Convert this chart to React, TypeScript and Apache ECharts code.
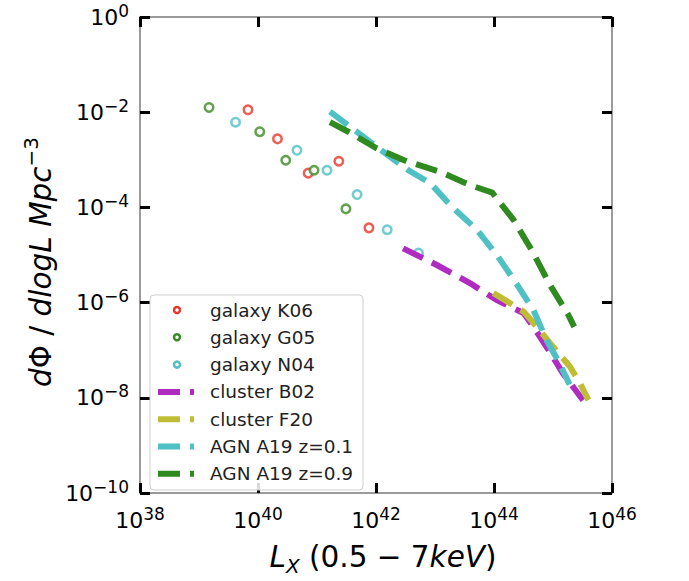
import React, { useEffect, useRef } from "react";
import * as echarts from "echarts";

// log10(L_X) and log10(dPhi/dlogL)
const k06LogL = [39.83, 40.33, 40.85, 41.37, 41.88];
const k06LogPhi = [-1.95, -2.56, -3.28, -3.03, -4.43];

const g05LogL = [39.17, 40.03, 40.47, 40.95, 41.49];
const g05LogPhi = [-1.9, -2.41, -3.01, -3.22, -4.03];

const n04LogL = [39.62, 40.66, 41.17, 41.68, 42.19, 42.72];
const n04LogPhi = [-2.21, -2.8, -3.22, -3.73, -4.47, -4.96];

const b02LogL = [42.46, 43.03, 43.59, 44.05, 44.5, 44.67, 44.89, 45.17, 45.51];
const b02LogPhi = [-4.86, -5.21, -5.59, -5.95, -6.22, -6.51, -6.93, -7.49, -8.05];

const f20LogL = [43.99, 44.27, 44.5, 44.67, 44.95, 45.29, 45.46, 45.6];
const f20LogPhi = [-5.8, -6.01, -6.19, -6.43, -6.85, -7.35, -7.7, -8.05];

const agn01LogL = [41.22, 41.67, 42.12, 42.55, 42.92, 43.28, 43.71, 44.07, 44.38, 44.67, 44.89, 45.1, 45.28];
const agn01LogPhi = [-1.99, -2.41, -2.83, -3.22, -3.49, -3.98, -4.47, -5.04, -5.6, -6.16, -6.79, -7.25, -7.72];

const agn09LogL = [41.22, 41.53, 42.01, 42.52, 43.08, 43.59, 43.97, 44.33, 44.64, 44.95, 45.26, 45.36];
const agn09LogPhi = [-2.21, -2.41, -2.76, -3.03, -3.25, -3.53, -3.69, -4.26, -4.9, -5.63, -6.26, -6.51];

const seriesNames = [
  "galaxy K06",
  "galaxy G05",
  "galaxy N04",
  "cluster B02",
  "cluster F20",
  "AGN A19 z=0.1",
  "AGN A19 z=0.9",
];
const seriesColors = ["#e8372b", "#3a8a24", "#4fc0c4", "#b02cc0", "#bfbd36", "#4fc0c4", "#2f8a1f"];
const seriesKinds = ["scatter", "scatter", "scatter", "line", "line", "line", "line"];

const xMin = 1e38;
const xMax = 1e46;
const yMin = 1e-10;
const yMax = 1;

const FONT = "DejaVu Sans";

function pairs(lx: number[], ly: number[]) {
  return lx.map((v, i) => [Math.pow(10, v), Math.pow(10, ly[i])]);
}

const seriesData = [
  pairs(k06LogL, k06LogPhi),
  pairs(g05LogL, g05LogPhi),
  pairs(n04LogL, n04LogPhi),
  pairs(b02LogL, b02LogPhi),
  pairs(f20LogL, f20LogPhi),
  pairs(agn01LogL, agn01LogPhi),
  pairs(agn09LogL, agn09LogPhi),
];

const tickLabel = (v: number) => {
  const e = Math.round(Math.log10(v));
  const s = e < 0 ? "\u2212" + -e : String(e);
  return `{b|10}{s|${s}}`;
};

const labelRich = {
  b: { fontSize: 22, fontFamily: FONT, color: "#000", lineHeight: 30 },
  s: { fontSize: 17, fontFamily: FONT, color: "#000", lineHeight: 20, verticalAlign: "top" as const },
};

export default function App() {
  const ref = useRef<HTMLDivElement>(null);
  useEffect(() => {
    if (!ref.current) return;
    const chart = echarts.init(ref.current, undefined, { renderer: "svg" });

    const axisCommon = {
      type: "log" as const,
      logBase: 10,
      interval: 2,
      axisLine: { show: true, lineStyle: { color: "#7a7a7a", width: 1.5 } },
      axisTick: { show: true, inside: true, length: 10, lineStyle: { color: "#000", width: 3 } },
      minorTick: { show: false },
      splitLine: { show: false },
    };

    const series: any[] = seriesData.map((d, i) => {
      if (seriesKinds[i] === "scatter") {
        return {
          name: seriesNames[i],
          type: "scatter",
          data: d,
          symbol: "circle",
          symbolSize: 8.5,
          itemStyle: { color: "#fff", borderColor: seriesColors[i], borderWidth: 2.5 },
          z: 2,
        };
      }
      return {
        name: seriesNames[i],
        type: "line",
        data: d,
        showSymbol: false,
        symbol: "none",
        lineStyle: { color: seriesColors[i], width: 6, type: [22, 10], cap: "butt", join: "miter" },
        z: 3,
      };
    });

    // legend
    const legX = 150;
    const legY = 295;
    const rowY0 = 310;
    const rowGap = 27.3;
    const legendEls: any[] = [
      {
        type: "rect",
        shape: { x: legX, y: legY, width: 213, height: 195, r: 4 },
        style: { fill: "rgba(255,255,255,0.85)", stroke: "#cfcfcf", lineWidth: 1 },
        z: 100,
      },
    ];
    seriesNames.forEach((name, i) => {
      const y = rowY0 + i * rowGap;
      if (seriesKinds[i] === "scatter") {
        legendEls.push({
          type: "circle",
          shape: { cx: 177, cy: y, r: 3 },
          style: { fill: "#fff", stroke: seriesColors[i], lineWidth: 2.5 },
          z: 101,
        });
      } else {
        legendEls.push({
          type: "line",
          shape: { x1: 158, y1: y, x2: 194, y2: y },
          style: { stroke: seriesColors[i], lineWidth: 6, lineDash: [22, 10] },
          z: 101,
        });
      }
      legendEls.push({
        type: "text",
        x: 210,
        y: y,
        style: {
          text: name,
          fontFamily: FONT,
          fontSize: 18.5,
          fill: "#222",
          verticalAlign: "middle",
          align: "left",
        },
        z: 101,
      });
    });

    const option: any = {
      animation: false,
      backgroundColor: "#fff",
      grid: { left: 140, top: 17, right: 77, bottom: 88, containLabel: false },
      xAxis: [
        {
          ...axisCommon,
          min: xMin,
          max: xMax,
          position: "bottom",
          axisLabel: { show: true, margin: 12, formatter: tickLabel, rich: labelRich },
        },
        {
          ...axisCommon,
          min: xMin,
          max: xMax,
          position: "top",
          axisLabel: { show: false },
        },
      ],
      yAxis: [
        {
          ...axisCommon,
          min: yMin,
          max: yMax,
          position: "left",
          axisLabel: { show: true, margin: 11, formatter: tickLabel, rich: labelRich },
        },
        {
          ...axisCommon,
          min: yMin,
          max: yMax,
          position: "right",
          axisLabel: { show: false },
        },
      ],
      series,
      graphic: [
        ...legendEls,
        {
          type: "text",
          x: 383,
          y: 557,
          style: {
            text: "{i|L}{sub|X}{n| (0.5 \u2212 7}{i|keV}{n|)}",
            align: "center",
            verticalAlign: "middle",
            rich: {
              i: { fontFamily: FONT, fontSize: 29.5, fontStyle: "italic", fill: "#000", lineHeight: 38 },
              n: { fontFamily: FONT, fontSize: 29.5, fill: "#000", lineHeight: 38 },
              sub: { fontFamily: FONT, fontSize: 20, fontStyle: "italic", fill: "#000", lineHeight: 25, verticalAlign: "bottom" },
            },
          },
        },
        {
          type: "text",
          x: 41,
          y: 262,
          rotation: Math.PI / 2,
          style: {
            text: "{i|d}{n|\u03a6 / }{i|dlogL Mpc}{sup|\u22123}",
            align: "center",
            verticalAlign: "middle",
            rich: {
              i: { fontFamily: FONT, fontSize: 29.5, fontStyle: "italic", fill: "#000", lineHeight: 40 },
              n: { fontFamily: FONT, fontSize: 29.5, fill: "#000", lineHeight: 40 },
              sup: { fontFamily: FONT, fontSize: 20, fill: "#000", lineHeight: 23, verticalAlign: "top" },
            },
          },
        },
      ],
    };
    chart.setOption(option);
    return () => chart.dispose();
  }, []);
  return (
    <div
      ref={ref}
      style={{ position: "absolute", left: 0, top: 0, width: 689, height: 581, background: "#fff" }}
    />
  );
}
